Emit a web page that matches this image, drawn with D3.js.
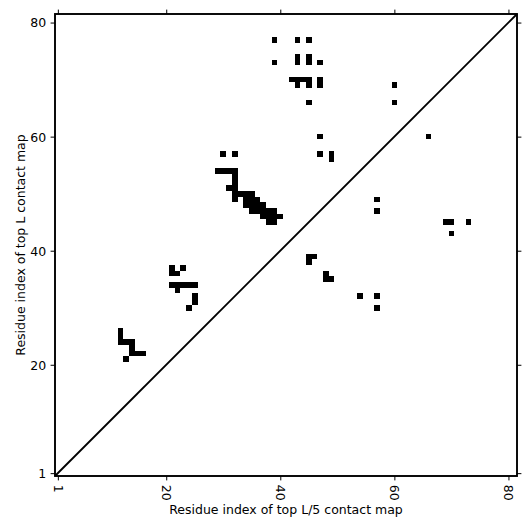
<!DOCTYPE html>
<html>
<head>
<meta charset="utf-8">
<script src="https://cdn.jsdelivr.net/npm/d3@7"></script>
<style>
  body { margin: 0; background: #fff; }
  text { font-family: "DejaVu Sans", sans-serif; fill: #000; }
</style>
</head>
<body>
<svg id="chart" width="531" height="531"></svg>
<script>
// residue count and tick labels
const L = 81;
const ticks = [1, 20, 40, 60, 80];

// contacts above the diagonal [x residue, y residue]
const upperContacts = [
  [39, 77], [43, 77], [45, 77],
  [39, 73], [43, 74], [43, 73], [45, 74], [45, 73], [47, 73],
  [42, 70], [43, 70], [44, 70], [45, 70], [47, 70], [43, 69], [45, 69], [47, 69],
  [45, 66], [60, 69], [60, 66],
  [47, 60], [30, 57], [32, 57], [47, 57], [49, 57], [49, 56],
  [29, 54], [30, 54], [31, 54], [32, 54], [32, 53], [32, 52], [31, 51], [32, 51],
  [32, 50], [33, 50], [34, 50], [35, 50], [32, 49], [34, 49], [35, 49], [36, 49],
  [34, 48], [35, 48], [36, 48], [37, 48], [35, 47], [36, 47], [37, 47], [38, 47], [39, 47],
  [37, 46], [38, 46], [39, 46], [40, 46], [38, 45], [39, 45],
  [21, 37], [21, 36], [22, 36], [23, 37],
  [21, 34], [22, 34], [23, 34], [24, 34], [25, 34], [22, 33], [25, 32], [25, 31], [24, 30],
  [12, 26], [12, 25], [12, 24], [13, 24], [14, 24], [14, 23], [14, 22], [15, 22], [16, 22], [13, 21]
];

// contacts below the diagonal
const lowerContacts = [
  [66, 60], [57, 49], [57, 47], [69, 45], [70, 45], [73, 45], [70, 43],
  [45, 39], [46, 39], [45, 38], [48, 36], [48, 35], [49, 35],
  [54, 32], [57, 32], [57, 30]
];

const margin = {left: 55, top: 14};
const size = 462;

const svg = d3.select("#chart");
const g = svg.append("g").attr("transform", `translate(${margin.left},${margin.top})`);

const x = d3.scaleLinear().domain([0.5, L + 0.5]).range([0, size]);
const y = d3.scaleLinear().domain([0.5, L + 0.5]).range([size, 0]);

// cells
g.selectAll("rect.cell")
  .data(upperContacts.concat(lowerContacts))
  .enter().append("rect")
  .attr("class", "cell")
  .attr("x", d => x(d[0] - 0.5))
  .attr("y", d => y(d[1] + 0.5))
  .attr("width", x(1.5) - x(0.5))
  .attr("height", y(0.5) - y(1.5))
  .attr("fill", "#000")
  .attr("shape-rendering", "crispEdges");

// diagonal
g.append("line")
  .attr("x1", x(0.5)).attr("y1", y(0.5))
  .attr("x2", x(L + 0.5)).attr("y2", y(L + 0.5))
  .attr("stroke", "#000")
  .attr("stroke-width", 1.9);

// axes
const tickLen = 4.4;
const xAxis = d3.axisBottom(x).tickValues(ticks).tickSize(tickLen).tickPadding(4.4);
const yAxis = d3.axisLeft(y).tickValues(ticks).tickSize(tickLen).tickPadding(4.4);

const gx = g.append("g").attr("transform", `translate(0,${size})`).call(xAxis);
gx.selectAll("text")
  .attr("y", 0).attr("dy", null)
  .attr("text-anchor", "start")
  .attr("dominant-baseline", "central")
  .attr("transform", `translate(0,${tickLen + 4.4}) rotate(90)`);

const gy = g.append("g").call(yAxis);
gy.selectAll("text").attr("dy", "0.35em");

g.append("g").call(d3.axisTop(x).tickValues(ticks).tickSize(tickLen).tickFormat(""));
g.append("g").attr("transform", `translate(${size},0)`)
  .call(d3.axisRight(y).tickValues(ticks).tickSize(tickLen).tickFormat(""));

g.selectAll(".domain").remove();
g.selectAll(".tick line").attr("stroke", "#000").attr("stroke-width", 1);
g.selectAll(".tick text").style("font-size", "12.5px").style("font-family", "DejaVu Sans");

// frame
g.append("rect")
  .attr("width", size).attr("height", size)
  .attr("fill", "none").attr("stroke", "#000").attr("stroke-width", 1.9);

// axis labels
svg.append("text")
  .attr("x", margin.left + size / 2).attr("y", 514)
  .attr("text-anchor", "middle")
  .style("font-size", "12.5px")
  .text("Residue index of top L/5 contact map");

svg.append("text")
  .attr("transform", `translate(25,${margin.top + size / 2}) rotate(-90)`)
  .attr("text-anchor", "middle")
  .style("font-size", "12.5px")
  .text("Residue index of top L contact map");
</script>
</body>
</html>
